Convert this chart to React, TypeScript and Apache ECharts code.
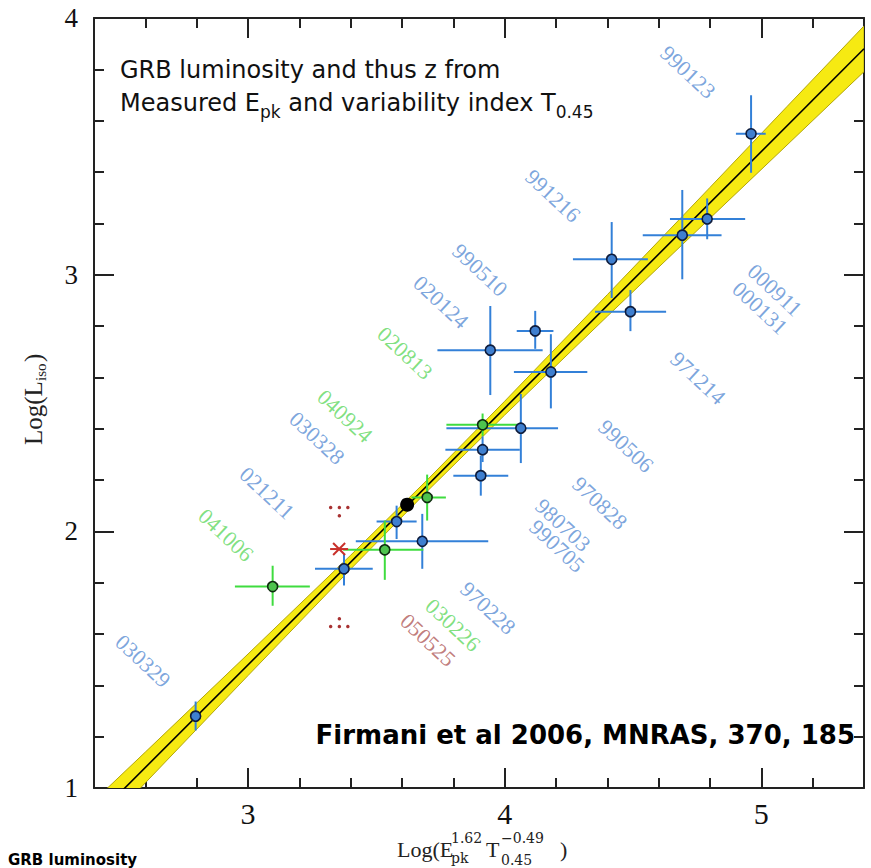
import React, { useEffect, useRef } from "react";
import * as echarts from "echarts";

// ---- axis ticks ----
const xMajorTicks = [3, 4, 5];
const xMinorTicks = [2.4, 2.6, 2.8, 3.0, 3.2, 3.4, 3.6, 3.8, 4.0, 4.2, 4.4, 4.6, 4.8, 5.0, 5.2, 5.4];
const yMajorTicks = [1, 2, 3, 4];
const yMinorTicks = [1.0, 1.2, 1.4, 1.6, 1.8, 2.0, 2.2, 2.4, 2.6, 2.8, 3.0, 3.2, 3.4, 3.6, 3.8, 4.0];

// ---- best-fit line and its yellow band ----
const fitLine = [
  [2.4, 0.88],
  [5.4, 3.88],
];
const bandX = [2.3, 2.6, 3.0, 3.4, 3.7, 4.0, 4.4, 4.8, 5.1, 5.4];
const bandLo = [0.705, 1.02, 1.438, 1.853, 2.158, 2.453, 2.838, 3.22, 3.505, 3.791];
const bandHi = [0.855, 1.14, 1.522, 1.907, 2.202, 2.507, 2.922, 3.34, 3.655, 3.969];

// ---- GRBs: [x, y, xLow, xHigh, yLow, yHigh] ----
const bluePoints = [
  [2.796, 1.28, 2.796, 2.796, 1.224, 1.337],
  [3.374, 1.854, 3.261, 3.486, 1.789, 1.912],
  [3.579, 2.038, 3.501, 3.657, 1.97, 2.1],
  [3.679, 1.961, 3.42, 3.936, 1.854, 2.068],
  [3.907, 2.217, 3.8, 4.014, 2.139, 2.295],
  [3.914, 2.318, 3.769, 4.059, 2.27, 2.37],
  [4.063, 2.402, 3.773, 4.208, 2.266, 2.535],
  [3.944, 2.706, 3.738, 4.148, 2.531, 2.878],
  [4.119, 2.781, 4.047, 4.19, 2.711, 2.859],
  [4.18, 2.621, 4.036, 4.322, 2.479, 2.768],
  [4.417, 3.06, 4.266, 4.558, 2.909, 3.205],
  [4.49, 2.856, 4.352, 4.629, 2.78, 2.94],
  [4.692, 3.154, 4.538, 4.845, 2.982, 3.33],
  [4.789, 3.217, 4.644, 4.937, 3.138, 3.297],
  [4.96, 3.549, 4.901, 5.017, 3.397, 3.699],
];
const greenPoints = [
  [3.096, 1.785, 2.949, 3.241, 1.71, 1.866],
  [3.533, 1.928, 3.371, 3.683, 1.811, 2.042],
  [3.698, 2.132, 3.637, 3.771, 2.042, 2.221],
  [3.914, 2.415, 3.773, 4.059, 2.372, 2.459],
];
const blackPoint = [[3.62, 2.104]];
const redCross = [[3.355, 1.931]];
const redDots = [
  [3.322, 2.093],
  [3.356, 2.093],
  [3.389, 2.093],
  [3.356, 2.061],
  [3.356, 1.659],
  [3.322, 1.629],
  [3.356, 1.629],
  [3.389, 1.629],
];

// ---- GRB name labels: [x, y] centres and names ----
const blueLabelNames = ["990123", "991216", "990510", "020124", "030328", "021211", "030329", "970228", "980703", "990705", "970828", "990506", "971214", "000911", "000131"];
const blueLabelPos = [
  [4.714, 3.79],
  [4.188, 3.307],
  [3.904, 3.018],
  [3.752, 2.893],
  [3.269, 2.364],
  [3.074, 2.149],
  [2.591, 1.495],
  [3.935, 1.701],
  [4.227, 2.025],
  [4.204, 1.943],
  [4.371, 2.11],
  [4.473, 2.332],
  [4.753, 2.597],
  [5.053, 2.94],
  [4.995, 2.87],
];
const greenLabelNames = ["020813", "040924", "041006", "030226"];
const greenLabelPos = [
  [3.612, 2.695],
  [3.378, 2.449],
  [2.914, 1.986],
  [3.799, 1.635],
];
const redLabelNames = ["050525"];
const redLabelPos = [[3.701, 1.577]];

const BLUE = "#3380d8";
const GREEN = "#3fdc3f";
const LABEL_BLUE = "#5a8ed4";
const LABEL_GREEN = "#5fd85f";
const LABEL_RED = "#b05a5a";
const AXIS = "#222";
const SERIF = '"Liberation Serif", "DejaVu Serif", serif';
const DSERIF = '"DejaVu Serif", serif';
const SANS = '"DejaVu Sans", sans-serif';

function errorBarRender(color: string) {
  return (params: any, api: any) => {
    const y = api.value(1);
    const x = api.value(0);
    const l = api.coord([api.value(2), y]);
    const r = api.coord([api.value(3), y]);
    const b = api.coord([x, api.value(4)]);
    const t = api.coord([x, api.value(5)]);
    return {
      type: "group",
      children: [
        { type: "line", shape: { x1: l[0], y1: l[1], x2: r[0], y2: r[1] }, style: { stroke: color, lineWidth: 2 } },
        { type: "line", shape: { x1: b[0], y1: b[1], x2: t[0], y2: t[1] }, style: { stroke: color, lineWidth: 2 } },
      ],
    };
  };
}

function labelSeries(names: string[], pos: number[][], color: string) {
  return {
    type: "scatter",
    symbolSize: 0,
    silent: true,
    z: 3,
    data: pos.map((p, i) => ({ value: p, name: names[i] })),
    label: {
      show: true,
      position: "inside",
      formatter: (p: any) => p.name,
      rotate: -43,
      color,
      fontFamily: SERIF,
      fontSize: 22,
      align: "center",
      verticalAlign: "middle",
    },
  };
}

function xAxisDef(position: "top" | "bottom", ticks: number[], len: number, labels: boolean, line: boolean) {
  return {
    type: "value",
    min: 2.4,
    max: 5.4,
    position,
    axisLine: { show: line, onZero: false, lineStyle: { color: AXIS, width: 2 } },
    axisTick: { show: true, inside: true, length: len, customValues: ticks, lineStyle: { color: AXIS, width: 2 } },
    axisLabel: labels
      ? { show: true, customValues: ticks, fontFamily: SERIF, fontSize: 30, color: "#111", margin: 10 }
      : { show: false },
    splitLine: { show: false },
  };
}

function yAxisDef(position: "left" | "right", ticks: number[], len: number, labels: boolean, line: boolean) {
  return {
    type: "value",
    min: 1,
    max: 4,
    position,
    axisLine: { show: line, onZero: false, lineStyle: { color: AXIS, width: 2 } },
    axisTick: { show: true, inside: true, length: len, customValues: ticks, lineStyle: { color: AXIS, width: 2 } },
    axisLabel: labels
      ? { show: true, customValues: ticks, fontFamily: SERIF, fontSize: 27, color: "#111", margin: 16 }
      : { show: false },
    splitLine: { show: false },
  };
}

export default function App() {
  const ref = useRef<HTMLDivElement>(null);
  useEffect(() => {
    if (!ref.current) return;
    const chart = echarts.init(ref.current, undefined, { renderer: "svg" });
    const option: any = {
      animation: false,
      backgroundColor: "#fff",
      grid: { left: 94, top: 18, width: 770, height: 770 },
      xAxis: [
        xAxisDef("bottom", xMajorTicks, 20, true, true),
        xAxisDef("bottom", xMinorTicks, 10, false, false),
        xAxisDef("top", xMajorTicks, 20, false, true),
        xAxisDef("top", xMinorTicks, 10, false, false),
      ],
      yAxis: [
        yAxisDef("left", yMajorTicks, 20, true, true),
        yAxisDef("left", yMinorTicks, 10, false, false),
        yAxisDef("right", yMajorTicks, 20, false, true),
        yAxisDef("right", yMinorTicks, 10, false, false),
      ],
      series: [
        {
          type: "custom",
          clip: true,
          silent: true,
          z: 1,
          data: bandX.map((x, i) => [x, bandLo[i], bandHi[i]]),
          renderItem: (params: any, api: any) => {
            if (params.dataIndex !== 0) return null;
            const upper = bandX.map((x, i) => api.coord([x, bandHi[i]]));
            const lower = bandX.map((x, i) => api.coord([x, bandLo[i]])).reverse();
            return {
              type: "polygon",
              shape: { points: upper.concat(lower) },
              style: { fill: "#f6ea12", stroke: "#b3a60a", lineWidth: 1 },
            };
          },
        },
        {
          type: "line",
          data: fitLine,
          symbol: "none",
          z: 2,
          lineStyle: { color: "#000", width: 1.6 },
        },
        { type: "custom", clip: true, z: 3, data: bluePoints, renderItem: errorBarRender(BLUE) },
        { type: "custom", clip: true, z: 3, data: greenPoints, renderItem: errorBarRender(GREEN) },
        {
          type: "scatter",
          z: 4,
          data: bluePoints.map((p) => [p[0], p[1]]),
          symbol: "circle",
          symbolSize: 10,
          itemStyle: { color: "#3f7fcf", borderColor: "#0e1c3c", borderWidth: 1.6, opacity: 1 },
        },
        {
          type: "scatter",
          z: 4,
          data: greenPoints.map((p) => [p[0], p[1]]),
          symbol: "circle",
          symbolSize: 10,
          itemStyle: { color: "#4ec34e", borderColor: "#0f2a0f", borderWidth: 1.6, opacity: 1 },
        },
        {
          type: "scatter",
          z: 4,
          data: blackPoint,
          symbol: "circle",
          symbolSize: 14,
          itemStyle: { color: "#000", opacity: 1 },
        },
        {
          type: "custom",
          z: 4,
          data: redCross,
          renderItem: (params: any, api: any) => {
            const c = api.coord([api.value(0), api.value(1)]);
            const st = { stroke: "#c8302a", lineWidth: 2 };
            return {
              type: "group",
              children: [
                { type: "line", shape: { x1: c[0] - 6, y1: c[1] - 6, x2: c[0] + 6, y2: c[1] + 6 }, style: st },
                { type: "line", shape: { x1: c[0] - 6, y1: c[1] + 6, x2: c[0] + 6, y2: c[1] - 6 }, style: st },
                { type: "line", shape: { x1: c[0] - 9, y1: c[1], x2: c[0] + 9, y2: c[1] }, style: st },
              ],
            };
          },
        },
        {
          type: "scatter",
          z: 4,
          data: redDots,
          symbol: "circle",
          symbolSize: 3.5,
          itemStyle: { color: "#a83232", opacity: 1 },
        },
        labelSeries(blueLabelNames, blueLabelPos, LABEL_BLUE),
        labelSeries(greenLabelNames, greenLabelPos, LABEL_GREEN),
        labelSeries(redLabelNames, redLabelPos, LABEL_RED),
      ],
      graphic: [
        {
          type: "text",
          x: 120,
          y: 70,
          style: { text: "GRB luminosity and thus z from", fontFamily: SANS, fontSize: 24, fill: "#111", align: "left", verticalAlign: "middle" },
        },
        {
          type: "text",
          x: 120,
          y: 103,
          style: {
            text: "Measured E{sub|pk} and variability index T{sub|0.45}",
            fontFamily: SANS,
            fontSize: 24,
            lineHeight: 34,
            fill: "#111",
            align: "left",
            verticalAlign: "middle",
            rich: { sub: { fontFamily: SANS, fontSize: 17, fill: "#111", verticalAlign: "bottom", lineHeight: 17 } },
          },
        },
        {
          type: "text",
          x: 855,
          y: 735,
          z: 10,
          style: {
            text: "Firmani et al 2006, MNRAS, 370, 185",
            fontFamily: SANS,
            fontSize: 26,
            fontWeight: "bold",
            fill: "#000",
            align: "right",
            verticalAlign: "middle",
          },
        },
        // y-axis name
        {
          type: "group",
          x: 33,
          y: 445,
          rotation: Math.PI / 2,
          children: [
            { type: "text", x: 0, y: 0, style: { text: "Log(L", fontFamily: SERIF, fontSize: 25, fill: "#222", align: "left", verticalAlign: "middle" } },
            { type: "text", x: 64, y: 8, style: { text: "iso", fontFamily: SERIF, fontSize: 15, fill: "#222", align: "left", verticalAlign: "middle" } },
            { type: "text", x: 83, y: 0, style: { text: ")", fontFamily: SERIF, fontSize: 25, fill: "#222", align: "left", verticalAlign: "middle" } },
          ],
        },
        // x-axis name
        {
          type: "group",
          x: 397,
          y: 849,
          children: [
            { type: "text", x: 0, y: 0, style: { text: "Log(E", fontFamily: SERIF, fontSize: 22, fill: "#222", align: "left", verticalAlign: "middle" } },
            { type: "text", x: 54, y: -11, style: { text: "1.62", fontFamily: DSERIF, fontSize: 14, fill: "#222", align: "left", verticalAlign: "middle" } },
            { type: "text", x: 54, y: 9, style: { text: "pk", fontFamily: DSERIF, fontSize: 14, fill: "#222", align: "left", verticalAlign: "middle" } },
            { type: "text", x: 89, y: 0, style: { text: "T", fontFamily: SERIF, fontSize: 22, fill: "#222", align: "left", verticalAlign: "middle" } },
            { type: "text", x: 104, y: -11, style: { text: "−0.49", fontFamily: DSERIF, fontSize: 14, fill: "#222", align: "left", verticalAlign: "middle" } },
            { type: "text", x: 104, y: 11, style: { text: "0.45", fontFamily: DSERIF, fontSize: 14, fill: "#222", align: "left", verticalAlign: "middle" } },
            { type: "text", x: 163, y: 0, style: { text: ")", fontFamily: SERIF, fontSize: 22, fill: "#222", align: "left", verticalAlign: "middle" } },
          ],
        },
        {
          type: "text",
          x: 8,
          y: 867,
          style: { text: "GRB luminosity", fontFamily: SANS, fontSize: 15, fontWeight: "bold", fill: "#000", align: "left", verticalAlign: "bottom" },
        },
      ],
    };
    chart.setOption(option);
    return () => chart.dispose();
  }, []);
  return <div ref={ref} style={{ position: "fixed", left: 0, top: 0, width: 871, height: 868, background: "#fff" }} />;
}
